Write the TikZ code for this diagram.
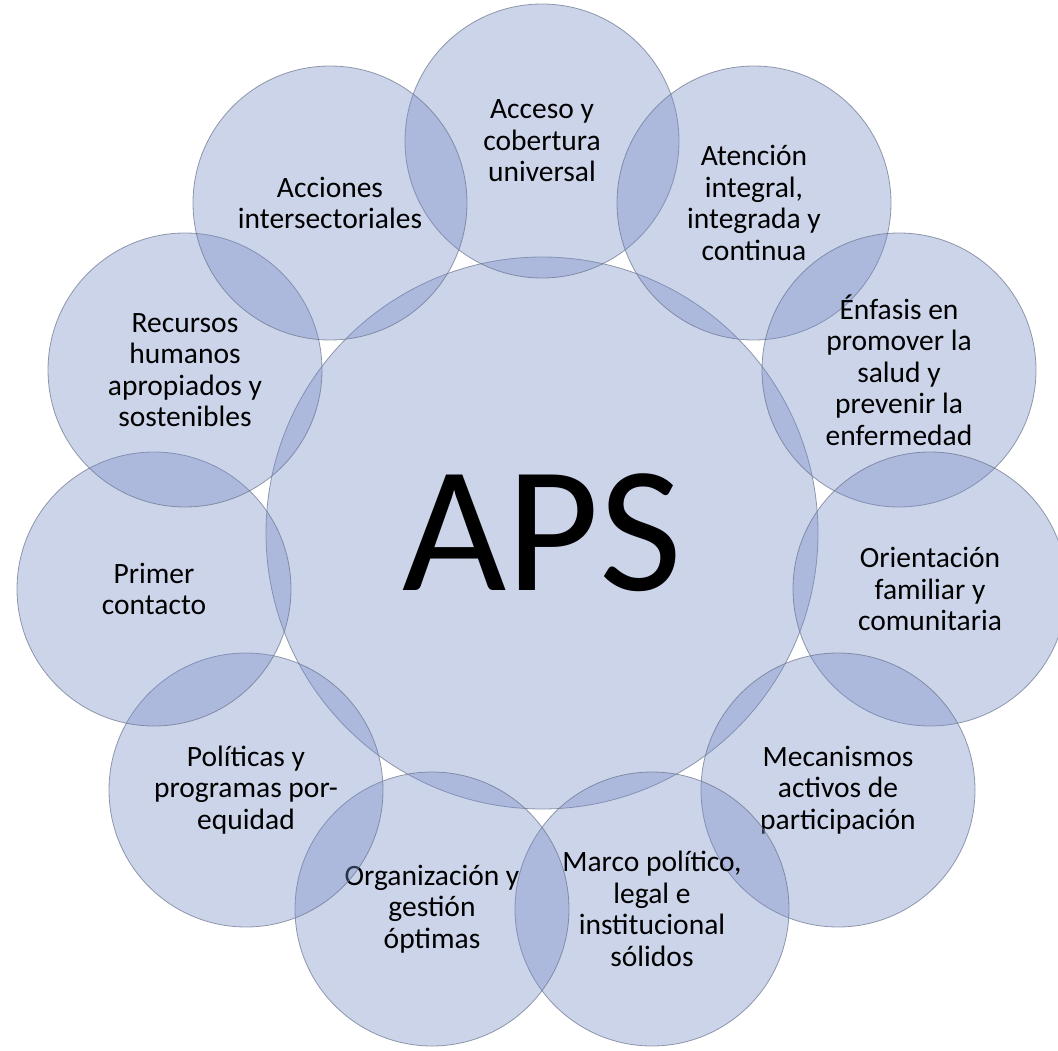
\documentclass[tikz,border=0pt]{standalone}
\usepackage{fontspec}
\setmainfont{Carlito}
\definecolor{bubble}{RGB}{117,139,198}
\definecolor{rim}{RGB}{105,115,140}
\begin{document}
\begin{tikzpicture}[x=1pt,y=-1pt,
  bubblebase/.style={circle,inner sep=0pt,fill=bubble,fill opacity=0.37,
    draw=rim,draw opacity=0.7,line width=0.8pt,text opacity=1,text=black,align=center},
  petal/.style={bubblebase,minimum size=274pt,font=\fontsize{29.5}{31.5}\selectfont},
  hub/.style={bubblebase,minimum size=552pt,font=\fontsize{180}{200}\selectfont}]
\useasboundingbox (0,0) rectangle (1058,1051);
\clip (0,0) rectangle (1058,1051);
\node[hub] (aps) at (542,533) {APS};
\node[petal] (p0) at (542,141) {Acceso y\\cobertura\\universal};
\node[petal] (p1) at (754,203) {Atención\\integral,\\integrada y\\continua};
\node[petal] (p2) at (899,370) {Énfasis en\\promover la\\salud y\\prevenir la\\enfermedad};
\node[petal] (p3) at (930,589) {Orientación\\familiar y\\comunitaria};
\node[petal] (p4) at (838,790) {Mecanismos\\activos de\\participación};
\node[petal] (p5) at (652,909) {Marco político,\\legal e\\institucional\\sólidos};
\node[petal] (p6) at (432,909) {Organización y\\gestión\\óptimas};
\node[petal] (p7) at (246,790) {Políticas y\\programas por-\\equidad};
\node[petal] (p8) at (154,589) {Primer\\contacto};
\node[petal] (p9) at (185,370) {Recursos\\humanos\\apropiados y\\sostenibles};
\node[petal] (p10) at (330,203) {Acciones\\intersectoriales};
\end{tikzpicture}
\end{document}
